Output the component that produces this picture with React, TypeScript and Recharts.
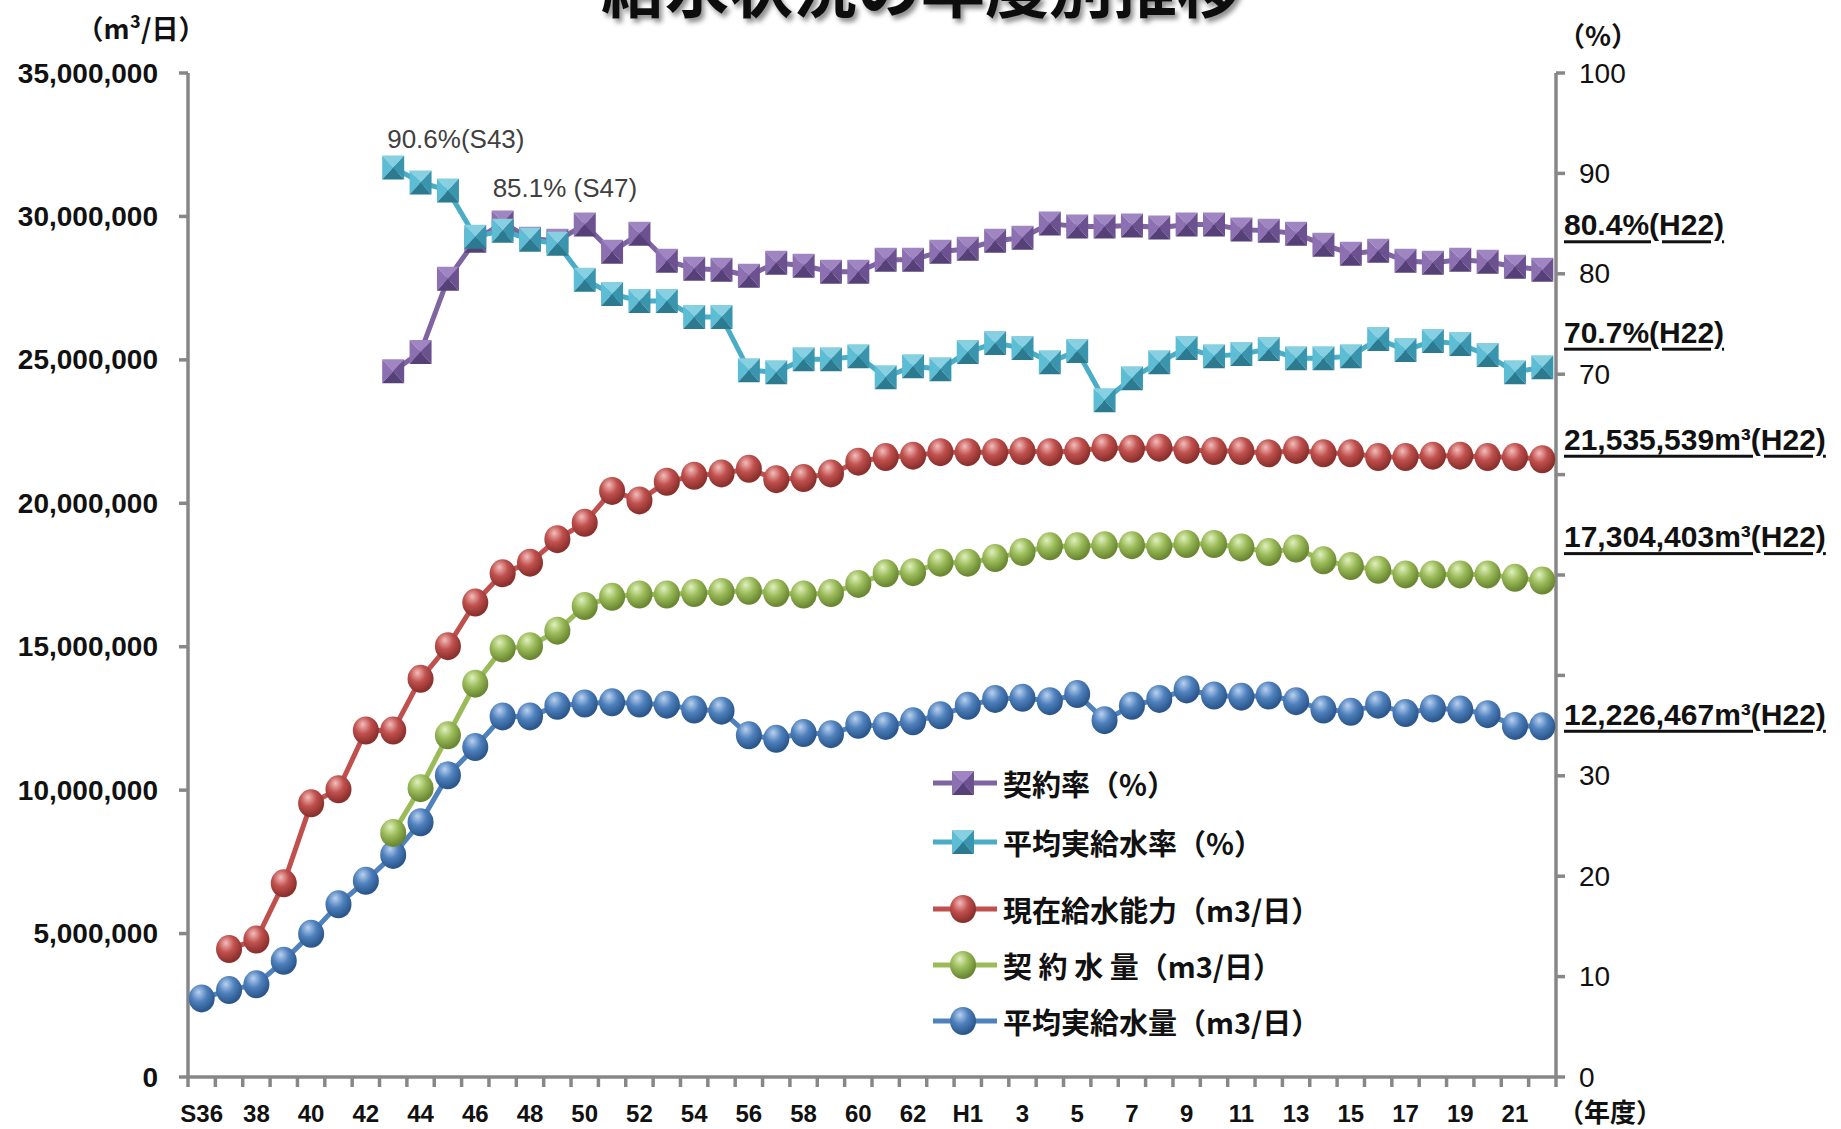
import React from "react";
import {
  LineChart,
  Line,
  XAxis,
  YAxis,
  Legend,
  LabelList,
  Customized,
} from "recharts";

// ── Fiscal years (Showa 36 → Heisei 22) ───────────────────────────
const years = [
  "S36", "S37", "S38", "S39", "S40", "S41", "S42", "S43", "S44", "S45",
  "S46", "S47", "S48", "S49", "S50", "S51", "S52", "S53", "S54", "S55",
  "S56", "S57", "S58", "S59", "S60", "S61", "S62", "S63", "H1", "H2",
  "H3", "H4", "H5", "H6", "H7", "H8", "H9", "H10", "H11", "H12",
  "H13", "H14", "H15", "H16", "H17", "H18", "H19", "H20", "H21", "H22",
];

// 現在給水能力 (m3/日)
const capacity = [
  null, 4460000, 4790000, 6750000, 9540000, 10030000, 12080000, 12080000, 13880000, 15020000,
  16540000, 17560000, 17930000, 18750000, 19320000, 20430000, 20100000, 20750000, 20960000, 21040000,
  21200000, 20840000, 20880000, 21040000, 21450000, 21610000, 21660000, 21780000, 21780000, 21780000,
  21820000, 21780000, 21820000, 21940000, 21900000, 21940000, 21860000, 21820000, 21820000, 21740000,
  21860000, 21740000, 21740000, 21610000, 21610000, 21660000, 21660000, 21610000, 21610000, 21535539,
];

// 契約水量 (m3/日)
const contractVolume = [
  null, null, null, null, null, null, null, 8510000, 10070000, 11910000,
  13710000, 14940000, 15020000, 15560000, 16420000, 16740000, 16820000, 16820000, 16870000, 16910000,
  16950000, 16870000, 16820000, 16870000, 17190000, 17560000, 17600000, 17930000, 17930000, 18090000,
  18300000, 18500000, 18500000, 18540000, 18540000, 18500000, 18580000, 18580000, 18460000, 18300000,
  18420000, 18010000, 17810000, 17680000, 17520000, 17520000, 17520000, 17520000, 17400000, 17304403,
];

// 平均実給水量 (m3/日)
const actualVolume = [
  2740000, 3030000, 3230000, 4050000, 4990000, 6020000, 6840000, 7740000, 8880000, 10520000,
  11500000, 12570000, 12570000, 12940000, 13020000, 13060000, 13020000, 12980000, 12810000, 12770000,
  11910000, 11790000, 11990000, 11950000, 12280000, 12240000, 12400000, 12610000, 12940000, 13180000,
  13220000, 13100000, 13350000, 12440000, 12940000, 13180000, 13510000, 13300000, 13260000, 13300000,
  13100000, 12810000, 12730000, 12980000, 12690000, 12850000, 12810000, 12650000, 12240000, 12226467,
];

// 契約率 (%)
const contractRate = [
  null, null, null, null, null, null, null, 70.3, 72.2, 79.5,
  83.3, 85.1, 83.5, 83.3, 84.9, 82.2, 84.0, 81.3, 80.5, 80.4,
  79.8, 81.1, 80.8, 80.2, 80.2, 81.4, 81.4, 82.2, 82.5, 83.3,
  83.6, 85.0, 84.7, 84.7, 84.8, 84.6, 84.9, 84.9, 84.4, 84.3,
  84.0, 82.9, 82.0, 82.3, 81.3, 81.1, 81.4, 81.2, 80.7, 80.4,
];

// 平均実給水率 (%)
const supplyRate = [
  null, null, null, null, null, null, null, 90.6, 89.1, 88.3,
  83.7, 84.3, 83.4, 83.0, 79.4, 78.0, 77.3, 77.3, 75.7, 75.7,
  70.4, 70.2, 71.5, 71.5, 71.8, 69.7, 70.8, 70.5, 72.2, 73.1,
  72.6, 71.2, 72.3, 67.4, 69.6, 71.2, 72.6, 71.8, 72.0, 72.5,
  71.6, 71.6, 71.8, 73.5, 72.4, 73.3, 73.0, 71.9, 70.2, 70.7,
];

const volumeTicks = [0, 5000000, 10000000, 15000000, 20000000, 25000000, 30000000, 35000000];
const rateTicks = [0, 10, 20, 30, 40, 50, 60, 70, 80, 90, 100];
const hiddenRateTicks = [40, 50, 60];

const data = years.map((year, i) => ({
  year,
  capacity: capacity[i],
  contractVolume: contractVolume[i],
  actualVolume: actualVolume[i],
  contractRate: contractRate[i],
  supplyRate: supplyRate[i],
}));

// ── Layout ────────────────────────────────────────────────────────
const W = 1841;
const H = 1129;
const PLOT_L = 188;
const PLOT_R = 1556;
const PLOT_T = 73;
const PLOT_B = 1077;
const BAND = (PLOT_R - PLOT_L) / years.length;

const AXIS = "#878787";
const NUM_FONT = "'Liberation Sans', Arial, sans-serif";
const JP_FONT = "'Noto Sans CJK JP', 'Noto Sans', sans-serif";

const COLORS = {
  purple: "#8064A2",
  cyan: "#4BACC6",
  red: "#C0504D",
  green: "#9BBB59",
  blue: "#4F81BD",
};

// shading for the pyramid squares: top, left, right, bottom
const PURPLE_FACES = ["#9F86C2", "#8C70B2", "#6B5190", "#564078"];
const CYAN_FACES = ["#86D0E2", "#5CBDD5", "#3995AD", "#2B7A8F"];

const SPHERES = [
  { id: "ballRed", light: "#F3BDBB", base: "#C0504D", dark: "#8A302D" },
  { id: "ballGreen", light: "#E0F0BE", base: "#9BBB59", dark: "#6A8732" },
  { id: "ballBlue", light: "#B9D1EF", base: "#4F81BD", dark: "#2B578C" },
];

// ── Markers ───────────────────────────────────────────────────────
const sphereDot = (gradId: string) => (props: any) => {
  const { cx, cy, value, index } = props;
  if (value == null || cx == null || cy == null) return <g key={`d${index}`} />;
  return <ellipse key={`d${index}`} cx={cx} cy={cy} rx={13} ry={14} fill={`url(#${gradId})`} />;
};

function Pyramid({ cx, cy, faces }: { cx: number; cy: number; faces: string[] }) {
  const hw = 11;
  const hh = 12;
  const l = cx - hw, r = cx + hw, t = cy - hh, b = cy + hh;
  return (
    <g>
      <polygon points={`${l},${t} ${r},${t} ${cx},${cy}`} fill={faces[0]} />
      <polygon points={`${l},${t} ${l},${b} ${cx},${cy}`} fill={faces[1]} />
      <polygon points={`${r},${t} ${r},${b} ${cx},${cy}`} fill={faces[2]} />
      <polygon points={`${l},${b} ${r},${b} ${cx},${cy}`} fill={faces[3]} />
    </g>
  );
}

const pyramidDot = (faces: string[]) => (props: any) => {
  const { cx, cy, value, index } = props;
  if (value == null || cx == null || cy == null) return <g key={`d${index}`} />;
  return (
    <g key={`d${index}`}>
      <Pyramid cx={cx} cy={cy} faces={faces} />
    </g>
  );
};

// ── Labels ────────────────────────────────────────────────────────
const peakLabel = (at: number, dx: number, dy: number, sep: string) => (props: any) => {
  const { x, y, value, index } = props;
  if (index !== at || value == null) return null;
  return (
    <text
      x={x + dx}
      y={y + dy}
      dominantBaseline="central"
      fontFamily={NUM_FONT}
      fontSize={26}
      fill="#404040"
    >
      {`${Number(value).toFixed(1)}%${sep}(${years[index]})`}
    </text>
  );
};

const endLabel = (dy: number, unit: "pct" | "vol") => (props: any) => {
  const { y, value, index } = props;
  if (index !== years.length - 1 || value == null) return null;
  const text =
    unit === "pct"
      ? `${Number(value).toFixed(1)}%(${years[index]})`
      : `${Number(value).toLocaleString("en-US")}m³(${years[index]})`;
  return (
    <text
      x={PLOT_R + 8}
      y={y + dy}
      dominantBaseline="central"
      fontFamily={NUM_FONT}
      fontSize={30}
      fontWeight="bold"
      fill="#111"
      textDecoration="underline"
      style={{ textDecoration: "underline" }}
    >
      {text}
    </text>
  );
};

// ── Axis ticks ────────────────────────────────────────────────────
function VolumeTick({ y, payload }: any) {
  return (
    <g>
      <line x1={PLOT_L - 9} x2={PLOT_L} y1={y} y2={y} stroke={AXIS} strokeWidth={3.5} />
      <text
        x={PLOT_L - 30}
        y={y}
        textAnchor="end"
        dominantBaseline="central"
        fontFamily={NUM_FONT}
        fontSize={28}
        fontWeight="bold"
        fill="#111"
      >
        {Number(payload.value).toLocaleString("en-US")}
      </text>
    </g>
  );
}

function RateTick({ y, payload }: any) {
  const show = !hiddenRateTicks.includes(payload.value);
  return (
    <g>
      <line x1={PLOT_R} x2={PLOT_R + 9} y1={y} y2={y} stroke={AXIS} strokeWidth={3.5} />
      {show && (
        <text
          x={PLOT_R + 23}
          y={y}
          dominantBaseline="central"
          fontFamily={NUM_FONT}
          fontSize={28}
          fill="#111"
        >
          {payload.value}
        </text>
      )}
    </g>
  );
}

function YearTick(props: any) {
  const { x, payload } = props;
  const index = props.index ?? payload.index ?? 0;
  const label = index === 0 || payload.value === "H1" ? payload.value : String(payload.value).slice(1);
  const left = x - BAND / 2;
  return (
    <g>
      <line x1={left} x2={left} y1={PLOT_B} y2={PLOT_B + 10} stroke={AXIS} strokeWidth={3.5} />
      {index === years.length - 1 && (
        <line x1={x + BAND / 2} x2={x + BAND / 2} y1={PLOT_B} y2={PLOT_B + 10} stroke={AXIS} strokeWidth={3.5} />
      )}
      {index % 2 === 0 && (
        <text
          x={x}
          y={PLOT_B + 36}
          textAnchor="middle"
          dominantBaseline="central"
          fontFamily={NUM_FONT}
          fontSize={24}
          fontWeight="bold"
          fill="#111"
        >
          {label}
        </text>
      )}
    </g>
  );
}

// ── Legend ────────────────────────────────────────────────────────
const legendOrder = ["contractRate", "supplyRate", "capacity", "contractVolume", "actualVolume"];
const LEGEND_ROWS = [28, 87, 154, 210, 266];

function legendMarker(key: string, cx: number, cy: number) {
  if (key === "contractRate") return <Pyramid cx={cx} cy={cy} faces={PURPLE_FACES} />;
  if (key === "supplyRate") return <Pyramid cx={cx} cy={cy} faces={CYAN_FACES} />;
  const grad = key === "capacity" ? "ballRed" : key === "contractVolume" ? "ballGreen" : "ballBlue";
  return <ellipse cx={cx} cy={cy} rx={13} ry={14} fill={`url(#${grad})`} />;
}

function LegendBox({ payload }: any) {
  const items = [...(payload || [])].sort(
    (a: any, b: any) => legendOrder.indexOf(a.dataKey) - legendOrder.indexOf(b.dataKey)
  );
  return (
    <svg width={440} height={295}>
      {items.map((item: any, i: number) => {
        const cy = LEGEND_ROWS[i];
        return (
          <g key={item.dataKey}>
            <line x1={8} x2={72} y1={cy} y2={cy} stroke={item.color} strokeWidth={5} />
            {legendMarker(item.dataKey, 38, cy)}
            <text
              x={78}
              y={cy}
              dominantBaseline="central"
              fontFamily={JP_FONT}
              fontSize={29}
              fontWeight="bold"
              fill="#111"
            >
              {item.value}
            </text>
          </g>
        );
      })}
    </svg>
  );
}

// ── Title and unit captions ───────────────────────────────────────
function Captions() {
  return (
    <g>
      <text
        x={921}
        y={12}
        textAnchor="middle"
        fontFamily={JP_FONT}
        fontSize={64}
        fontWeight="bold"
        fill="#111"
        filter="url(#titleShadow)"
      >
        給水状況の年度別推移
      </text>
      <text x={141} y={27} textAnchor="middle" dominantBaseline="central" fontFamily={JP_FONT} fontSize={27} fontWeight="bold" fill="#111">
        （m³/日）
      </text>
      <text x={1598} y={34} textAnchor="middle" dominantBaseline="central" fontFamily={JP_FONT} fontSize={27} fontWeight="bold" fill="#111">
        （%）
      </text>
      <text x={1610} y={1110} textAnchor="middle" dominantBaseline="central" fontFamily={JP_FONT} fontSize={26} fontWeight="bold" fill="#111">
        （年度）
      </text>
    </g>
  );
}

export default function App() {
  return (
    <div style={{ position: "absolute", left: 0, top: 0, width: W, height: H, background: "#fff" }}>
      <svg width={0} height={0} style={{ position: "absolute" }}>
        <defs>
          {SPHERES.map((s) => (
            <radialGradient key={s.id} id={s.id} cx="40%" cy="34%" r="70%" fx="38%" fy="28%">
              <stop offset="0%" stopColor={s.light} />
              <stop offset="45%" stopColor={s.base} />
              <stop offset="90%" stopColor={s.dark} />
              <stop offset="100%" stopColor={s.dark} />
            </radialGradient>
          ))}
          <filter id="titleShadow" x="-10%" y="-50%" width="120%" height="200%">
            <feDropShadow dx="3" dy="4" stdDeviation="2.5" floodColor="#000" floodOpacity="0.45" />
          </filter>
        </defs>
      </svg>
      <LineChart
        width={W}
        height={H}
        data={data}
        margin={{ top: PLOT_T, right: 0, bottom: 0, left: 0 }}
      >
        <XAxis
          dataKey="year"
          scale="band"
          height={H - PLOT_B}
          interval={0}
          tickLine={false}
          axisLine={{ stroke: AXIS, strokeWidth: 3.5 }}
          tick={<YearTick />}
        />
        <YAxis
          yAxisId="vol"
          width={PLOT_L}
          domain={[0, 35000000]}
          ticks={volumeTicks}
          tickLine={false}
          axisLine={{ stroke: AXIS, strokeWidth: 3.5 }}
          tick={<VolumeTick />}
        />
        <YAxis
          yAxisId="pct"
          orientation="right"
          width={W - PLOT_R}
          domain={[0, 100]}
          ticks={rateTicks}
          tickLine={false}
          axisLine={{ stroke: AXIS, strokeWidth: 3.5 }}
          tick={<RateTick />}
        />
        <Legend
          layout="vertical"
          align="center"
          verticalAlign="middle"
          content={<LegendBox />}
          wrapperStyle={{ position: "absolute", left: 925, top: 755, width: 440, height: 295 }}
        />
        <Line
          yAxisId="vol"
          dataKey="capacity"
          name="現在給水能力（m3/日）"
          stroke={COLORS.red}
          strokeWidth={5}
          dot={sphereDot("ballRed")}
          activeDot={false}
          isAnimationActive={false}
        >
          <LabelList dataKey="capacity" content={endLabel(-20, "vol")} />
        </Line>
        <Line
          yAxisId="vol"
          dataKey="actualVolume"
          name="平均実給水量（m3/日）"
          stroke={COLORS.blue}
          strokeWidth={5}
          dot={sphereDot("ballBlue")}
          activeDot={false}
          isAnimationActive={false}
        >
          <LabelList dataKey="actualVolume" content={endLabel(-12, "vol")} />
        </Line>
        <Line
          yAxisId="vol"
          dataKey="contractVolume"
          name="契 約 水 量（m3/日）"
          stroke={COLORS.green}
          strokeWidth={5}
          dot={sphereDot("ballGreen")}
          activeDot={false}
          isAnimationActive={false}
        >
          <LabelList dataKey="contractVolume" content={endLabel(-44, "vol")} />
        </Line>
        <Line
          yAxisId="pct"
          dataKey="contractRate"
          name="契約率（%）"
          stroke={COLORS.purple}
          strokeWidth={5}
          dot={pyramidDot(PURPLE_FACES)}
          activeDot={false}
          isAnimationActive={false}
        >
          <LabelList dataKey="contractRate" content={peakLabel(11, -10, -35, " ")} />
          <LabelList dataKey="contractRate" content={endLabel(-45, "pct")} />
        </Line>
        <Line
          yAxisId="pct"
          dataKey="supplyRate"
          name="平均実給水率（%）"
          stroke={COLORS.cyan}
          strokeWidth={5}
          dot={pyramidDot(CYAN_FACES)}
          activeDot={false}
          isAnimationActive={false}
        >
          <LabelList dataKey="supplyRate" content={peakLabel(7, -6, -28, "")} />
          <LabelList dataKey="supplyRate" content={endLabel(-35, "pct")} />
        </Line>
        <Customized component={Captions} />
      </LineChart>
    </div>
  );
}
